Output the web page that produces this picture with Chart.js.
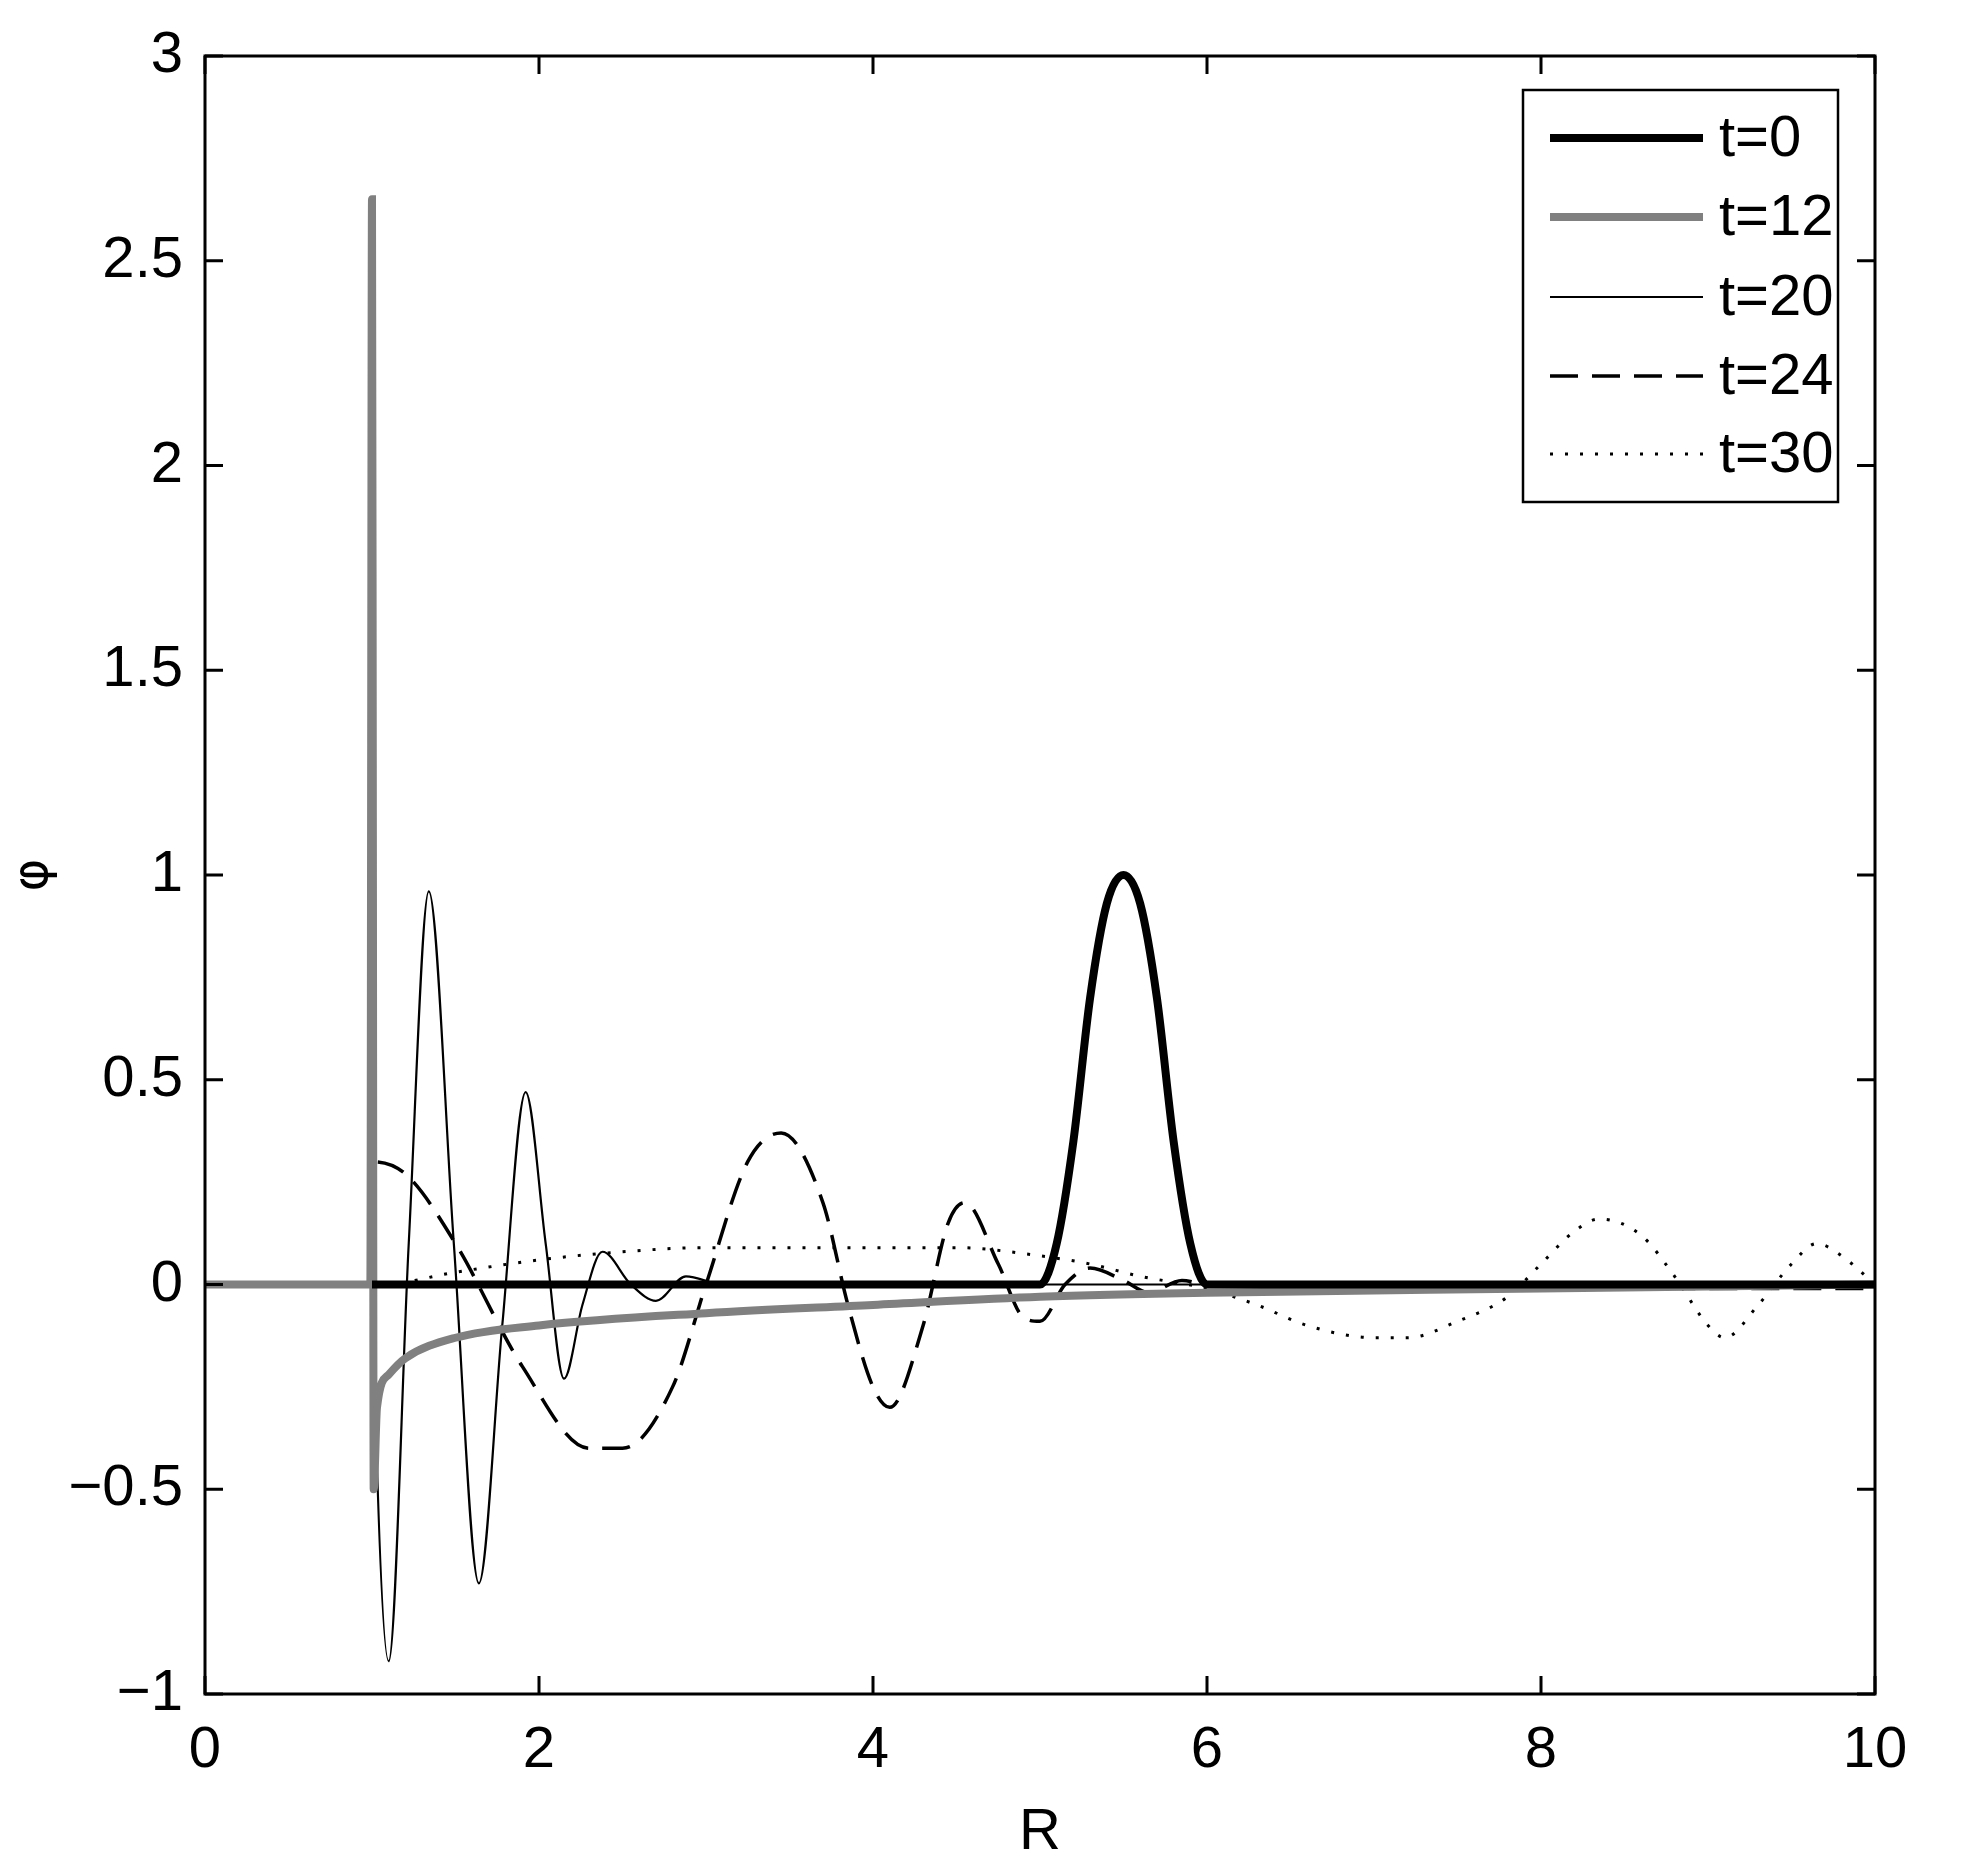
<!DOCTYPE html>
<html><head><meta charset="utf-8">
<script src="https://cdn.jsdelivr.net/npm/chart.js@4/dist/chart.umd.min.js"></script>
<style>html,body{margin:0;padding:0;background:#fff}#w{width:1968px;height:1872px}</style>
</head><body><div id="w"><canvas id="c"></canvas></div>
<script>
const xTicks=[0,2,4,6,8,10];
const yTicks=[-1,-0.5,0,0.5,1,1.5,2,2.5,3];
const labels=["t=0","t=12","t=20","t=24","t=30"];
const t0X=[1.0,5.0,5.1,5.2,5.3,5.4,5.5,5.6,5.7,5.8,5.9,6.0,10];
const t0Y=[0,0,0.1,0.35,0.7,0.93,1.0,0.93,0.7,0.35,0.1,0,0];
const t12X=[0,0.99,1.0,1.005,1.01,1.03,1.1,1.2,1.5,2,3,4,5,6,8,10];
const t12Y=[0,0,2.65,1.2,-0.5,-0.3,-0.22,-0.18,-0.13,-0.1,-0.07,-0.05,-0.03,-0.02,-0.01,0];
const t20X=[0,0.99,1.0,1.02,1.1,1.22,1.34,1.49,1.64,1.78,1.92,2.04,2.15,2.26,2.38,2.55,2.7,2.88,3.1,10];
const t20Y=[0,0,0.15,-0.3,-0.92,0.1,0.96,0.1,-0.73,-0.1,0.47,0.1,-0.23,-0.05,0.08,0.0,-0.04,0.02,0,0];
const t24X=[0,0.99,1.0,1.2,1.5,1.9,2.3,2.5,2.8,3.0,3.25,3.45,3.7,3.85,4.0,4.1,4.3,4.45,4.55,4.75,4.9,5.0,5.15,5.3,5.5,5.65,5.85,6.0,10];
const t24Y=[0,0,0.3,0.27,0.1,-0.2,-0.4,-0.4,-0.25,0,0.3,0.37,0.2,-0.05,-0.25,-0.3,-0.1,0.15,0.2,0.05,-0.08,-0.09,0,0.04,0.01,-0.02,0.01,0,-0.01];
const t30X=[0,1.05,1.5,2,2.5,3,3.5,4,4.5,5,5.3,5.6,6,6.3,6.6,7,7.2,7.5,7.8,8.0,8.2,8.35,8.6,8.8,9.0,9.1,9.3,9.5,9.65,9.8,10];
const t30Y=[0,0,0.03,0.06,0.08,0.09,0.09,0.09,0.09,0.07,0.05,0.02,-0.01,-0.05,-0.1,-0.13,-0.13,-0.09,-0.03,0.05,0.13,0.16,0.12,0.02,-0.1,-0.13,-0.05,0.05,0.1,0.07,0];
const pts=(xs,ys)=>xs.map((x,i)=>({x,y:ys[i]}));
const styles=[
 {c:'#000',w:8,d:[]},
 {c:'#808080',w:8,d:[]},
 {c:'#000',w:2.2,d:[]},
 {c:'#000',w:3.5,d:[28,14]},
 {c:'#000',w:3,d:[3,12]}];
const data=[pts(t0X,t0Y),pts(t12X,t12Y),pts(t20X,t20Y),pts(t24X,t24Y),pts(t30X,t30Y)];
const datasets=data.map((d,i)=>({label:labels[i],data:d,borderColor:styles[i].c,borderWidth:styles[i].w,borderDash:styles[i].d,
 cubicInterpolationMode:'monotone',pointRadius:0,fill:false}));
const FONT='"Liberation Sans Narrow", "Liberation Sans", Arial, sans-serif';
const fmt=v=>String(v).replace('-','\u2212');
const deco={id:'deco',afterDraw(ch){
 const g=ch.ctx,a=ch.chartArea,xs=ch.scales.x,ys=ch.scales.y;
 g.save();g.strokeStyle='#000';g.lineWidth=3;g.setLineDash([]);
 g.strokeRect(a.left,a.top,a.right-a.left,a.bottom-a.top);
 const L=18;
 xTicks.forEach(v=>{const p=xs.getPixelForValue(v);g.beginPath();g.moveTo(p,a.bottom);g.lineTo(p,a.bottom-L);g.moveTo(p,a.top);g.lineTo(p,a.top+L);g.stroke();});
 yTicks.forEach(v=>{const p=ys.getPixelForValue(v);g.beginPath();g.moveTo(a.left,p);g.lineTo(a.left+L,p);g.moveTo(a.right,p);g.lineTo(a.right-L,p);g.stroke();});
 const bx=1523,by=90,bw=315,bh=412;
 g.fillStyle='#fff';g.fillRect(bx,by,bw,bh);g.lineWidth=2.5;g.strokeRect(bx,by,bw,bh);
 const rows=[138,217,297,376,454];
 g.font='58px '+FONT;g.textBaseline='middle';g.fillStyle='#000';
 labels.forEach((lb,i)=>{const s=styles[i];g.strokeStyle=s.c;g.lineWidth=s.w;g.setLineDash(s.d);
  g.beginPath();g.moveTo(1550,rows[i]);g.lineTo(1703,rows[i]);g.stroke();g.setLineDash([]);
  g.fillText(lb,1719,rows[i]+2);});
 g.restore();}};
new Chart(document.getElementById('c'),{type:'line',data:{datasets},
 options:{responsive:true,maintainAspectRatio:false,animation:false,
 layout:{padding:{top:56,right:93,left:0,bottom:0}},
 plugins:{legend:{display:false},tooltip:{enabled:false}},
 scales:{
  x:{type:'linear',min:0,max:10,afterBuildTicks:s=>{s.ticks=xTicks.map(v=>({value:v}));},
   afterFit:s=>{s.height=178;},grid:{display:false},border:{display:false},
   ticks:{color:'#000',font:{size:58,family:FONT},padding:14,maxRotation:0,callback:fmt},
   title:{display:true,text:'R',color:'#000',font:{size:58,family:FONT},padding:{top:4}}},
  y:{min:-1,max:3,afterBuildTicks:s=>{s.ticks=yTicks.map(v=>({value:v}));},
   afterFit:s=>{s.width=205;},grid:{display:false},border:{display:false},
   ticks:{color:'#000',font:{size:58,family:FONT},padding:14,callback:fmt},
   title:{display:true,text:'\u03C6',color:'#000',font:{size:50,family:'"DejaVu Sans"'},padding:{bottom:4}}}}},
 plugins:[deco]});
</script></body></html>
